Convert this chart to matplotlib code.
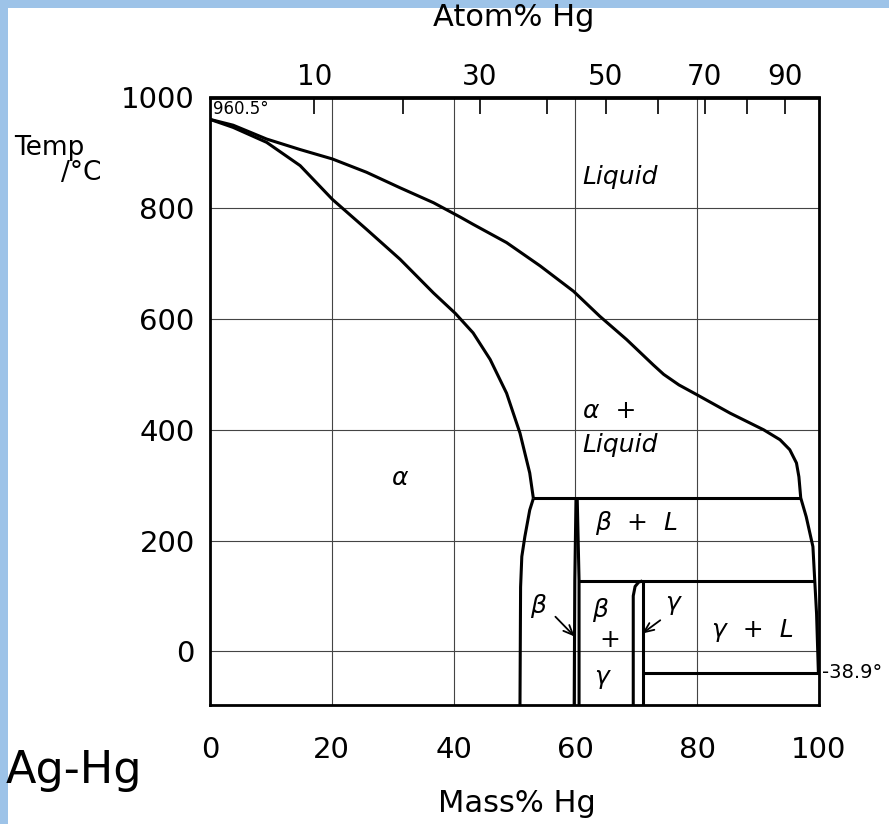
import matplotlib
matplotlib.use("Agg")
import matplotlib.pyplot as plt
from matplotlib.patches import Rectangle
import numpy as np

# ---------------- data ----------------
M_AG, M_HG = 107.87, 200.59

liquidus_mass = [0, 3.8, 9.3, 14.8, 20.1, 25.7, 31.2, 36.7, 41.1, 43.2, 48.7, 54.2,
                 59.7, 64.0, 68.4, 72.8, 74.5, 77.0, 80.0, 85.4, 90.9, 93.6, 95.2,
                 96.3, 96.7, 97.0, 97.9, 99.0, 99.3, 99.6, 99.9]
liquidus_temp = [960.5, 950, 925, 906, 889, 865, 837, 810, 784, 771, 738, 696,
                 650, 605, 563, 517, 500, 481, 463, 430, 400, 382, 364,
                 340, 315, 277, 243, 189, 128, 68, -38.9]

solidus_mass = [0, 3.8, 9.3, 14.8, 20.1, 25.7, 31.2, 36.7, 40.3, 43.2, 46.0, 48.7,
                50.9, 52.5, 53.1]
solidus_temp = [960.5, 946, 919, 877, 816, 762, 708, 647, 610, 575, 527, 466,
                394, 322, 276]

alpha_solvus_mass = [53.1, 52.5, 51.7, 51.2, 51.0, 50.9]
alpha_solvus_temp = [276, 255, 207, 171, 116, -97]

beta_left_mass = [60.1, 59.9, 59.8]
beta_left_temp = [276, 128, -97]
beta_right_mass = [60.3, 60.6, 60.6]
beta_right_temp = [276, 128, -97]

gamma_left_mass = [69.5, 69.5, 69.8, 70.4, 71.0]
gamma_left_temp = [-97, 100, 117, 125, 127]
gamma_right_mass = [71.1, 71.1]
gamma_right_temp = [127, -97]

# invariant (horizontal) lines: (temperature, from mass, to mass)
invariant_temp = [276, 127, -38.9]
invariant_from = [53.1, 60.6, 71.1]
invariant_to = [97.0, 99.3, 100.0]

atom_ticks = [10, 20, 30, 40, 50, 60, 70, 80, 90]
atom_labels = ["10", "", "30", "", "50", "", "70", "", "90"]
mass_ticks = [0, 20, 40, 60, 80, 100]
temp_ticks = [0, 200, 400, 600, 800, 1000]

# ---------------- figure ----------------
W, H = 889, 824
fig = plt.figure(figsize=(W / 100, H / 100), dpi=100)
fig.patch.set_facecolor("#9DC3E8")
fig.add_artist(Rectangle((8 / W, 0), 1, 1 - 8 / H, transform=fig.transFigure,
                         facecolor="white", edgecolor="none", zorder=0))

ax = fig.add_axes([210 / W, 1 - 705 / H, 609 / W, (705 - 97.5) / H])
ax.set_xlim(0, 100)
ax.set_ylim(-97, 1000)

FONT = "DejaVu Sans"
lw = 2.2
k = dict(color="black", lw=lw, solid_capstyle="butt", solid_joinstyle="round", zorder=3)

ax.plot(liquidus_mass, liquidus_temp, **k)
ax.plot(solidus_mass, solidus_temp, **k)
ax.plot(alpha_solvus_mass, alpha_solvus_temp, **k)
ax.plot(beta_left_mass, beta_left_temp, **k)
ax.plot(beta_right_mass, beta_right_temp, **k)
ax.plot(gamma_left_mass, gamma_left_temp, **k)
ax.plot(gamma_right_mass, gamma_right_temp, **k)
for t, a, b in zip(invariant_temp, invariant_from, invariant_to):
    ax.plot([a, b], [t, t], **k)

# grid and ticks
ax.set_xticks(mass_ticks)
ax.set_yticks(temp_ticks)
ax.grid(True, color="#444444", lw=0.8, zorder=1)
ax.set_xticklabels([str(v) for v in mass_ticks], fontsize=21, family=FONT)
ax.set_yticklabels([str(v) for v in temp_ticks], fontsize=21, family=FONT)
ax.tick_params(axis="x", length=0, pad=22)
ax.tick_params(axis="y", length=0, pad=11)
for s in ax.spines.values():
    s.set_linewidth(2)

# top atom% axis
def mass_to_atom(w):
    w = np.asarray(w, dtype=float)
    nh = w / M_HG
    na = (100 - w) / M_AG
    return 100 * nh / np.where(nh + na == 0, 1, nh + na)

def atom_to_mass(a):
    a = np.asarray(a, dtype=float)
    mh = a * M_HG
    ma = (100 - a) * M_AG
    return 100 * mh / np.where(mh + ma == 0, 1, mh + ma)

sec = ax.secondary_xaxis("top", functions=(mass_to_atom, atom_to_mass))
sec.set_xticks(atom_ticks)
sec.set_xticklabels(atom_labels, fontsize=20, family=FONT)
sec.tick_params(direction="in", length=12, width=1.2, pad=5)
sec.spines["top"].set_linewidth(2)

# axis titles
fig.text(514 / W, 1 - 18 / H, "Atom% Hg", ha="center", va="center", fontsize=22, family=FONT)
fig.text(517 / W, 1 - 804 / H, "Mass% Hg", ha="center", va="center", fontsize=22, family=FONT)
fig.text(14 / W, 1 - 148 / H, "Temp", ha="left", va="center", fontsize=19, family=FONT)
fig.text(101 / W, 1 - 173 / H, "/°C", ha="right", va="center", fontsize=19, family=FONT)
fig.text(6 / W, 1 - 770 / H, "Ag-Hg", ha="left", va="center", fontsize=32, family=FONT)

# annotations
ax.text(0.5, 995, "960.5°", ha="left", va="top", fontsize=12, family=FONT, zorder=5)
ax.text(100.5, -38.9, "-38.9°", ha="left", va="center", fontsize=14, family=FONT,
        clip_on=False)

it = dict(ha="left", va="center", fontsize=18, family=FONT, style="italic")
ax.text(61.2, 856, "Liquid", **it)
ax.text(61.2, 433, "α  +", **it)
ax.text(61.2, 373, "Liquid", **it)
ax.text(29.8, 313, "α", **it)
ax.text(63.3, 232, "β  +  L", **it)
ax.text(62.8, 74, "β", **it)
ax.text(63.9, 20, "+", ha="left", va="center", fontsize=18, family=FONT)
ax.text(63.0, -47, "γ", **it)
ax.text(82.5, 38, "γ  +  L", **it)
ax.text(52.6, 82, "β", **it)
ax.text(74.8, 88, "γ", **it)

ap = dict(arrowstyle="->,head_length=0.7,head_width=0.3", color="black", lw=1.3)
ax.annotate("", xy=(60.2, 23), xytext=(56.4, 66), arrowprops=ap)
ax.annotate("", xy=(70.6, 29), xytext=(74.3, 59), arrowprops=ap)

fig.savefig("out.png", dpi=100, facecolor=fig.get_facecolor())
